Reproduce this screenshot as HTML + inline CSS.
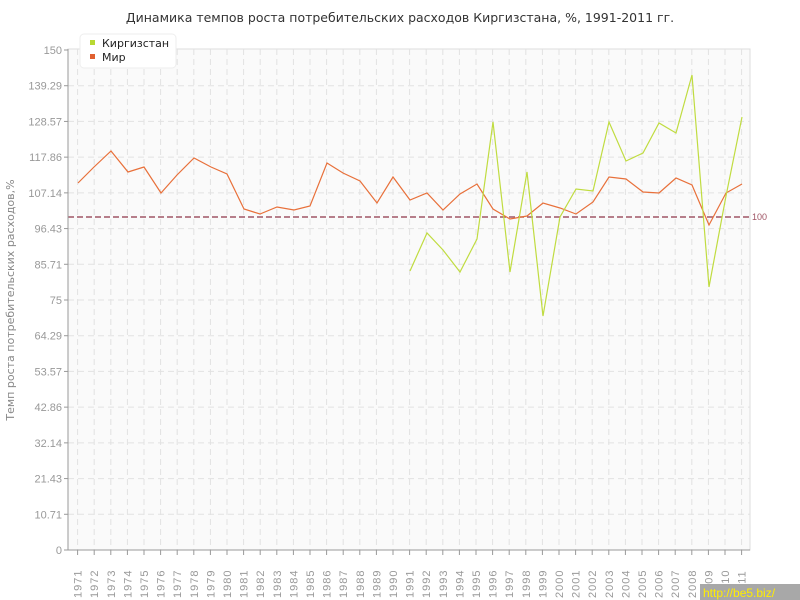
<!DOCTYPE html>
<html><head><meta charset="utf-8"><style>
body{margin:0;background:#fff;}
svg{display:block;font-family:"Liberation Sans","DejaVu Sans",sans-serif;}
</style></head><body>
<svg width="800" height="600" viewBox="0 0 800 600">
<rect width="800" height="600" fill="#fff"/>
<text x="400" y="22" text-anchor="middle" font-size="12.5" fill="#333" font-family="DejaVu Sans, sans-serif">Динамика темпов роста потребительских расходов Киргизстана, %, 1991-2011 гг.</text>
<rect x="68" y="49" width="682" height="501" fill="#fafafa" stroke="#ddd"/>
<g stroke="#e2e2e2" stroke-dasharray="6,4" stroke-width="1" id="grid"></g>
<line x1="68" y1="217" x2="750" y2="217" stroke="#a05565" stroke-width="1.5" stroke-dasharray="6,3"/>
<text x="752" y="220" font-size="9" fill="#a05565">100</text>
<line x1="68" y1="49" x2="68" y2="550" stroke="#999"/>
<line x1="68" y1="550" x2="750" y2="550" stroke="#999"/>
<g id="ticks" font-size="11" fill="#999"></g>
<polyline fill="none" stroke="#e8703a" stroke-width="1.2" points="78,183 94,167 111,151 128,172 144,167 161,193 177,175 194,158 211,167 227,174 244,209 260,214 277,207 294,210 310,206 327,163 343,173 360,181 377,203 393,177 410,200 427,193 443,210 460,194 477,184 493,209 510,219 527,216 543,203 560,208 576,214 593,202 609,177 626,179 643,192 659,193 676,178 692,185 709,225 726,193 742,184"/>
<polyline fill="none" stroke="#c0dc40" stroke-width="1.2" points="410,271 427,233 443,250 460,272 477,239 493,122 510,272 527,172 543,316 560,217 576,189 593,191 609,122 626,161 643,153 659,123 676,133 692,75 709,287 726,196 742,117"/>
<text transform="translate(14,300) rotate(-90)" text-anchor="middle" font-size="11" fill="#888" font-family="DejaVu Sans, sans-serif">Темп роста потребительских расходов,%</text>
<rect x="80" y="34" width="96" height="34" rx="4" fill="#fff" stroke="#eee"/>
<rect x="90" y="40" width="5" height="5" fill="#b8d832"/>
<text x="102" y="47" font-size="11" fill="#222" font-family="DejaVu Sans, sans-serif">Киргизстан</text>
<rect x="90" y="54" width="5" height="5" fill="#e06030"/>
<text x="102" y="61" font-size="11" fill="#222" font-family="DejaVu Sans, sans-serif">Мир</text>
<rect x="700" y="584" width="100" height="16" fill="#a8a8a8"/>
<text x="703" y="597" font-size="12" fill="#ffee00">http://be5.biz/</text>
</svg>
<script>
var ns="http://www.w3.org/2000/svg",g=document.getElementById("grid"),t=document.getElementById("ticks");
function el(p,n,a){var e=document.createElementNS(ns,n);for(var k in a)e.setAttribute(k,a[k]);p.appendChild(e);return e;}
var labs=["0","10.71","21.43","32.14","42.86","53.57","64.29","75","85.71","96.43","107.14","117.86","128.57","139.29","150"];
for(var i=0;i<15;i++){var y=550-i*500/14;
 if(i>0&&i<14)el(g,"line",{x1:68,x2:750,y1:y,y2:y});
 el(t,"line",{x1:64,x2:68,y1:y,y2:y,stroke:"#999"});
 var tx=el(t,"text",{x:62,y:y+4,"text-anchor":"end"});tx.textContent=labs[i];}
for(var j=0;j<=40;j++){var x=77.6+j*16.6;
 el(g,"line",{x1:x,x2:x,y1:49,y2:550});
 el(t,"line",{x1:x,x2:x,y1:550,y2:555,stroke:"#999"});
 var tx=el(t,"text",{transform:"translate("+(x+4)+",598) rotate(-90)","font-size":"11","letter-spacing":"1"});tx.textContent=1971+j;}
</script>
</body></html>
